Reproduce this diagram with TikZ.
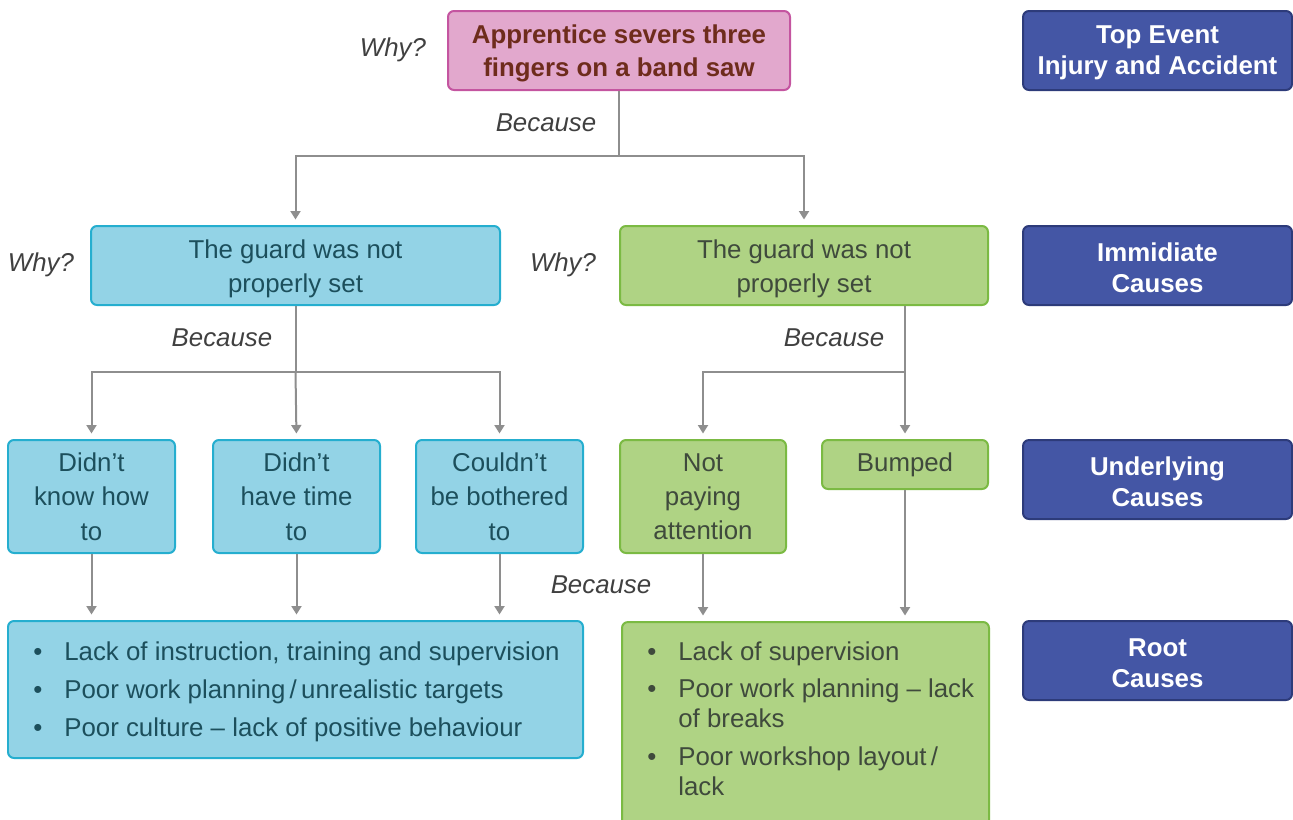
\documentclass[tikz,border=0pt]{standalone}
\usepackage{fontspec}
\setmainfont{Liberation Sans}
\usetikzlibrary{arrows.meta}
\definecolor{linegrey}{HTML}{8E8E8E}
\definecolor{labeltext}{HTML}{404040}
\definecolor{pinkfill}{HTML}{E2A8CD}
\definecolor{pinkline}{HTML}{C455A0}
\definecolor{pinktext}{HTML}{6E2C1C}
\definecolor{bluefill}{HTML}{93D3E6}
\definecolor{blueline}{HTML}{25AECF}
\definecolor{bluetext}{HTML}{1C4F5C}
\definecolor{greenfill}{HTML}{AFD384}
\definecolor{greenline}{HTML}{7BBA43}
\definecolor{greentext}{HTML}{3F4A3C}
\definecolor{navyfill}{HTML}{4456A5}
\definecolor{navyline}{HTML}{2D3B7A}
\newlength\pxu
\setlength\pxu{0.02cm}
\newcommand\causeitem[1]{\par\hangindent=31\pxu\hangafter=1\noindent\makebox[31\pxu][l]{\textbullet}#1}
\begin{document}
\begin{tikzpicture}[x=0.02cm,y=-0.02cm,>={Triangle[width=0.2cm,length=0.17cm]},
  box/.style={draw,line width=0.04cm,rounded corners=0.12cm,inner sep=0pt,align=center,
    font=\fontsize{14.7}{19.5}\selectfont},
  lowered/.style={execute at begin node={\rule{0pt}{#1}}},
  pinkbox/.style={box,fill=pinkfill,draw=pinkline,text=pinktext,lowered=32.6pt,
    font=\bfseries\fontsize{14.7}{18.7}\selectfont},
  bluebox/.style={box,fill=bluefill,draw=blueline,text=bluetext},
  greenbox/.style={box,fill=greenfill,draw=greenline,text=greentext},
  levelbox/.style={box,fill=navyfill,draw=navyline,text=white,minimum width=269*\pxu,minimum height=79*\pxu,
    lowered=30.4pt,font=\bfseries\fontsize{14.7}{17.6}\selectfont},
  roottext/.style={inner sep=0pt,anchor=west,font=\fontsize{14.7}{17}\selectfont},
  link/.style={draw=linegrey,line width=0.04cm},
  arr/.style={link,->,shorten >=0.11cm},
  why/.style={text=labeltext,font=\itshape\fontsize{14.7}{18}\selectfont},
]
  \useasboundingbox (0,0) rectangle (1293,819);
  \clip (0,0) rectangle (1293,819);
  % top event
  \node[pinkbox,minimum width=342*\pxu,minimum height=79*\pxu] (top) at (619,50.5)
    {Apprentice severs three\\fingers on a band saw};
  % immediate causes
  \node[bluebox,lowered=34pt,minimum width=409*\pxu,minimum height=79*\pxu] (imL) at (295.5,265.5)
    {The guard was not\\properly set};
  \node[greenbox,lowered=34pt,minimum width=368*\pxu,minimum height=79*\pxu] (imR) at (804,265.5)
    {The guard was not\\properly set};
  % underlying causes
  \node[bluebox,minimum width=167*\pxu,minimum height=113*\pxu] (ulA) at (91.5,496.5)
    {Didn’t\\know how\\to};
  \node[bluebox,minimum width=167*\pxu,minimum height=113*\pxu] (ulB) at (296.5,496.5)
    {Didn’t\\have time\\to};
  \node[bluebox,minimum width=167*\pxu,minimum height=113*\pxu] (ulC) at (499.5,496.5)
    {Couldn’t\\be bothered\\to};
  \node[greenbox,minimum width=166*\pxu,minimum height=113*\pxu] (ulD) at (703,496.5)
    {Not\\paying\\attention};
  \node[greenbox,minimum width=166*\pxu,minimum height=49*\pxu] (ulE) at (905,464.5)
    {Bumped};
  % root causes
  \node[bluebox,minimum width=575*\pxu,minimum height=137*\pxu] (rootL) at (295.5,689.5) {};
  \node[roottext,text=bluetext] (rootLtext) at ([xshift=26*\pxu,yshift=-2.5*\pxu]rootL.west)
    {\parbox{560\pxu}{\setlength\parskip{4.5pt}%
      \causeitem{Lack of instruction, training and supervision}
      \causeitem{Poor work planning\,/\,unrealistic targets}
      \causeitem{Poor culture -- lack of positive behaviour}}};
  \node[greenbox,anchor=north west,minimum width=367*\pxu,minimum height=230*\pxu] (rootR) at (621,621) {};
  \node[roottext,anchor=north west,text=greentext] (rootRtext) at ([xshift=26*\pxu,yshift=-20*\pxu]rootR.north west)
    {\parbox[t]{340\pxu}{\setlength\parskip{4.5pt}%
      \causeitem{Lack of supervision}
      \causeitem{Poor work planning -- lack\newline of breaks}
      \causeitem{Poor workshop layout\,/\newline lack}}};
  % levels
  \node[levelbox] (lvTop) at (1157.5,50.5) {Top Event\\Injury and Accident};
  \node[levelbox] (lvImm) at (1157.5,265.5) {Immidiate\\Causes};
  \node[levelbox] (lvUnd) at (1157.5,479.5) {Underlying\\Causes};
  \node[levelbox] (lvRoot) at (1157.5,660.5) {Root\\Causes};
  % why / because
  \node[why] (whyTop) at (393,50) {Why?};
  \node[why] (whyL) at (41,265) {Why?};
  \node[why] (whyR) at (563,265) {Why?};
  \node[why] (bcTop) at (546,123) {Because};
  \node[why] (bcL) at (222,338) {Because};
  \node[why] (bcR) at (834,338) {Because};
  \node[why] (bcRoot) at (601,585) {Because};
  % connectors
  \coordinate (jTop) at (619,156);
  \draw[link] (top.south) -- (jTop);
  \draw[arr] (jTop) -| (imL.north);
  \draw[arr] (jTop) -| (imR.north);
  \coordinate (jL) at (295.5,372);
  \draw[link] (imL.south) -- (jL);
  \draw[arr] (jL) -| (ulA.north);
  \draw[arr] (jL) -- (ulB.north);
  \draw[arr] (jL) -| (ulC.north);
  \coordinate (jR) at (905,372);
  \draw[arr] (ulE.north |- imR.south) -- (ulE.north);
  \draw[arr] (jR) -| (ulD.north);
  \draw[arr] (ulA.south) -- (ulA.south |- rootL.north);
  \draw[arr] (ulB.south) -- (ulB.south |- rootL.north);
  \draw[arr] (ulC.south) -- (ulC.south |- rootL.north);
  \draw[arr] (ulD.south) -- (ulD.south |- rootR.north);
  \draw[arr] (ulE.south) -- (ulE.south |- rootR.north);
\end{tikzpicture}
\end{document}
